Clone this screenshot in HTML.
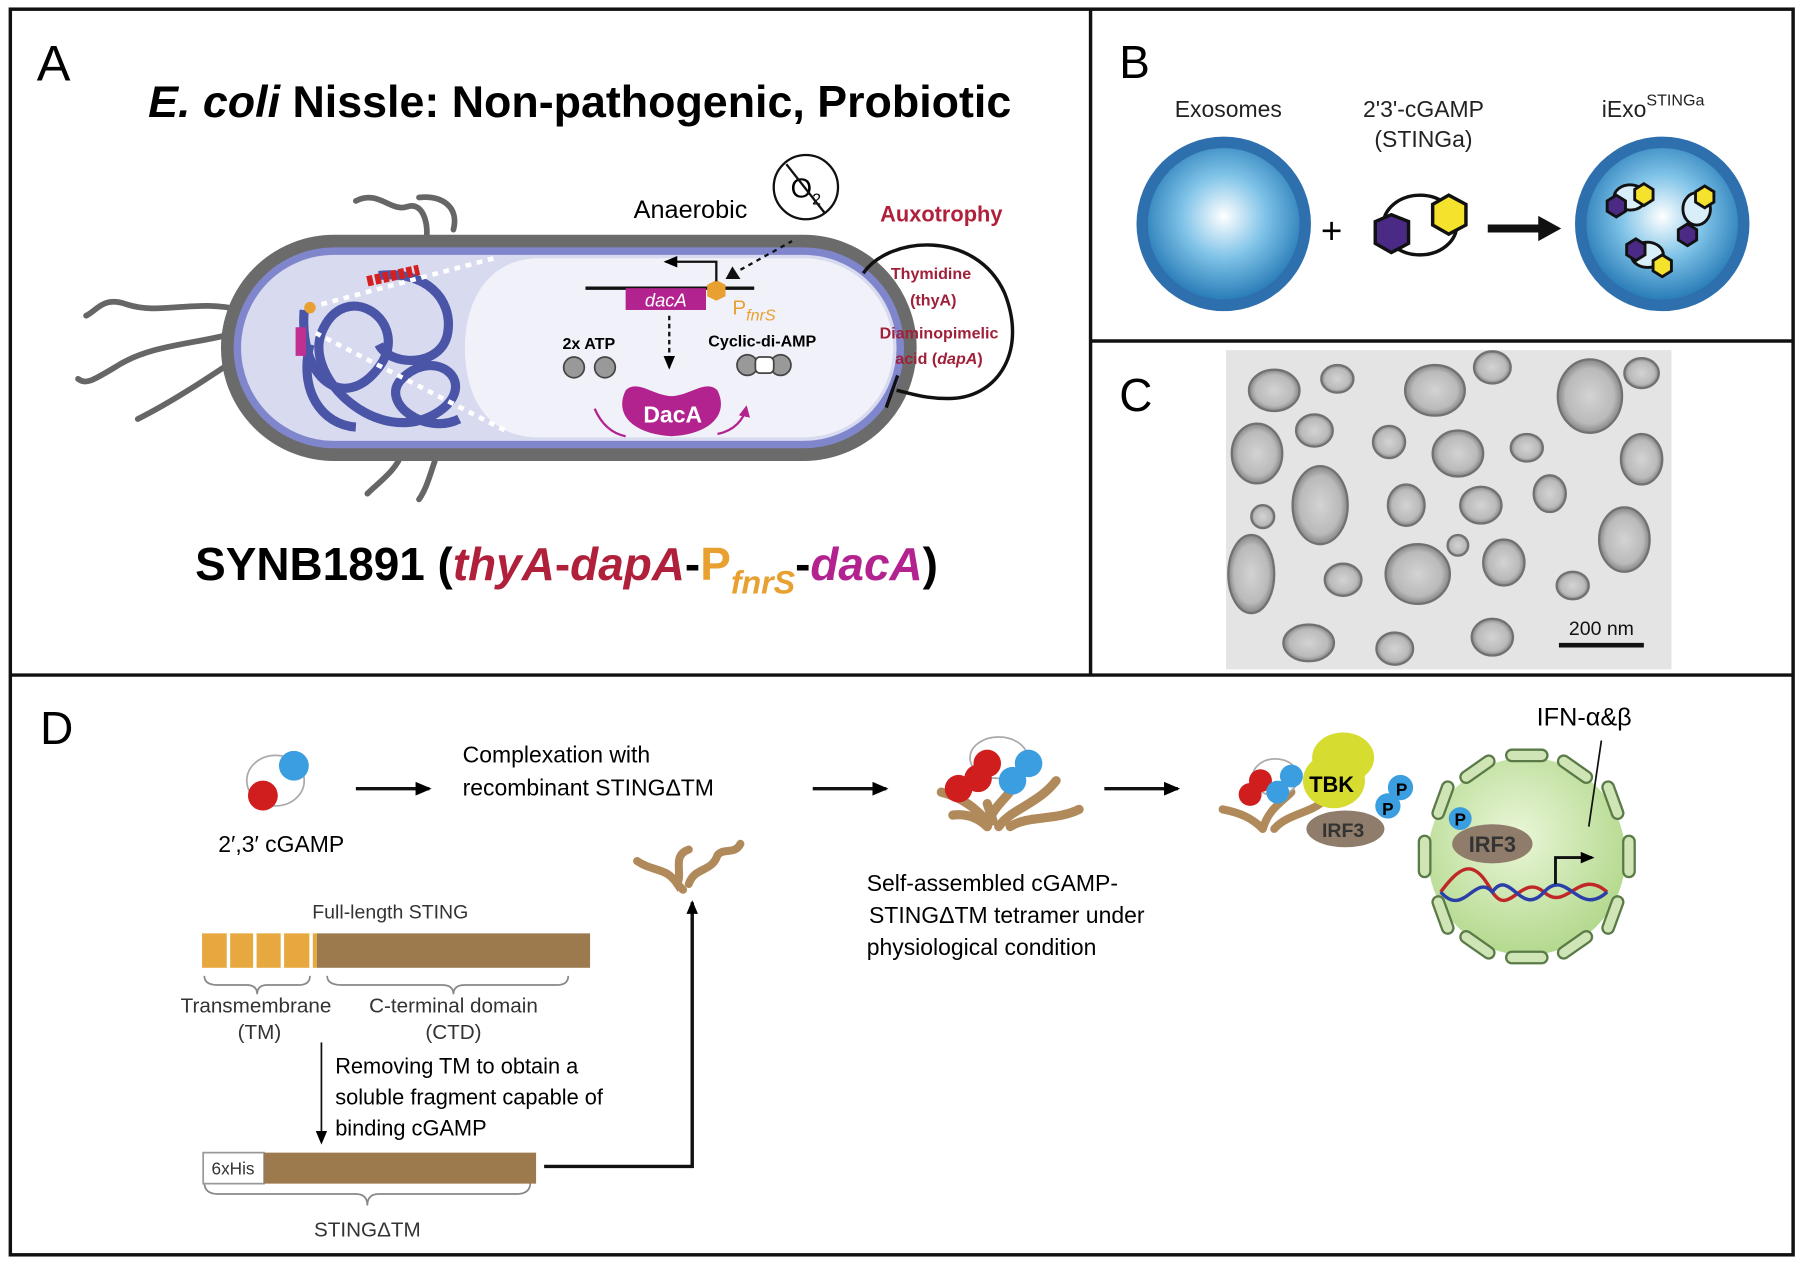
<!DOCTYPE html>
<html><head><meta charset="utf-8"><style>
html,body{margin:0;padding:0;background:#fff;}
svg{display:block;}
text{font-family:"Liberation Sans",Arial,sans-serif;}
</style></head><body>
<svg width="1800" height="1264" viewBox="0 0 1568 1101" preserveAspectRatio="none" xmlns="http://www.w3.org/2000/svg">
<defs>
<radialGradient id="exo" cx="50%" cy="45%" r="55%"><stop offset="0" stop-color="#ffffff"/><stop offset="0.5" stop-color="#7fc3e8"/><stop offset="1" stop-color="#2a7db8"/></radialGradient>
<radialGradient id="nuc" cx="45%" cy="40%" r="60%"><stop offset="0" stop-color="#eaf6d8"/><stop offset="1" stop-color="#b4d98e"/></radialGradient>
<radialGradient id="em" cx="50%" cy="50%" r="50%"><stop offset="0" stop-color="#d0d0d0"/><stop offset="0.75" stop-color="#b0b0b0"/><stop offset="1" stop-color="#707070"/></radialGradient>
<marker id="ah" markerUnits="userSpaceOnUse" markerWidth="14" markerHeight="12" refX="12" refY="6" orient="auto"><path d="M0,0 L14,6 L0,12 z" fill="#000"/></marker>
<marker id="ahs" markerUnits="userSpaceOnUse" markerWidth="12" markerHeight="10" refX="10" refY="5" orient="auto"><path d="M0,0 L12,5 L0,10 z" fill="#000"/></marker>
<marker id="ahm" markerUnits="userSpaceOnUse" markerWidth="10" markerHeight="10" refX="8" refY="5" orient="auto"><path d="M0,0 L10,5 L0,10 z" fill="#b3238f"/></marker>
</defs>
<rect x="0" y="0" width="1568" height="1101" fill="#fff"/>
<rect x="9" y="8" width="1553" height="1085" fill="none" stroke="#111" stroke-width="3"/>
<line x1="950" y1="8" x2="950" y2="588" stroke="#111" stroke-width="3"/>
<line x1="9" y1="588" x2="1562" y2="588" stroke="#111" stroke-width="3"/>
<line x1="950" y1="297" x2="1562" y2="297" stroke="#111" stroke-width="3"/>

<!-- PANEL A -->
<text x="32" y="70" font-size="44">A</text>
<text x="505" y="102" font-size="39" font-weight="bold" text-anchor="middle"><tspan font-style="italic">E. coli</tspan> Nissle: Non-pathogenic, Probiotic</text>
<g fill="none" stroke="#666" stroke-width="5" stroke-linecap="round">
<path d="M310,175 C330,165 340,185 355,180 C370,175 375,200 370,215"/>
<path d="M365,172 C385,170 400,180 395,200"/>
<path d="M210,270 C170,260 140,275 110,265 C90,258 85,270 75,275"/>
<path d="M205,290 C170,300 130,300 100,320 C80,332 75,335 68,330"/>
<path d="M210,310 C180,330 150,350 120,365"/>
<path d="M350,395 C345,410 330,420 320,430"/>
<path d="M380,398 C375,412 372,425 365,435"/>
</g>
<rect x="198" y="210" width="595" height="186" rx="93" fill="#8086cc" stroke="#6b6b6b" stroke-width="11"/>
<rect x="210" y="222" width="571" height="162" rx="81" fill="#d8daef"/>
<path d="M470,225 L700,225 A78,78 0 0 1 700,381 L470,381 C420,381 405,340 405,303 C405,262 425,225 470,225 Z" fill="#f1f2f9"/>
<g fill="none" stroke="#4a55a8" stroke-width="8">
<path d="M265,270 C260,330 300,360 330,320 C360,280 300,240 280,290 C265,330 330,390 380,360 C420,335 380,300 350,330 C330,350 370,380 400,365"/>
<path d="M330,240 C370,235 395,260 390,290 C385,320 340,320 330,300"/>
<path d="M270,300 C260,340 280,370 310,372"/>
</g>
<path d="M320,245 L365,235" stroke="#d42020" stroke-width="9" stroke-dasharray="5,2"/>
<path d="M262,285 L262,310" stroke="#c03090" stroke-width="9"/>
<circle cx="270" cy="268" r="5" fill="#e8a030"/>
<line x1="280" y1="265" x2="430" y2="225" stroke="#fff" stroke-width="4" stroke-dasharray="5,5"/>
<line x1="275" y1="290" x2="440" y2="375" stroke="#fff" stroke-width="4" stroke-dasharray="5,5"/>
<line x1="510" y1="251" x2="657" y2="251" stroke="#111" stroke-width="3"/>
<rect x="545" y="251" width="70" height="19" fill="#b3238f"/>
<text x="580" y="267" font-size="16" fill="#fff" font-style="italic" text-anchor="middle">dacA</text>
<polygon points="624,244 632,248 632,258 624,262 616,258 616,248" fill="#e8a030"/>
<text x="638" y="274" font-size="18" fill="#e8a030">P<tspan font-size="14" font-style="italic" dy="5">fnrS</tspan></text>
<path d="M624,245 L624,228 L580,228" fill="none" stroke="#111" stroke-width="2" marker-end="url(#ahs)"/>
<polygon points="632,243 645,243 638,232" fill="#111"/>
<line x1="645" y1="235" x2="690" y2="210" stroke="#111" stroke-width="2" stroke-dasharray="4,4"/>
<text x="552" y="190" font-size="22">Anaerobic</text>
<circle cx="702" cy="163" r="28" fill="#fff" stroke="#111" stroke-width="2"/>
<text x="702" y="172" font-size="24" text-anchor="middle">O<tspan font-size="14" dy="6">2</tspan></text>
<line x1="685" y1="143" x2="718" y2="185" stroke="#111" stroke-width="2"/>
<line x1="583" y1="275" x2="583" y2="320" stroke="#111" stroke-width="2" stroke-dasharray="4,3" marker-end="url(#ahs)"/>
<text x="490" y="304" font-size="14" font-weight="bold">2x ATP</text>
<circle cx="500" cy="320" r="9" fill="#999" stroke="#444" stroke-width="1.5"/>
<circle cx="527" cy="320" r="9" fill="#999" stroke="#444" stroke-width="1.5"/>
<text x="617" y="302" font-size="14" font-weight="bold">Cyclic-di-AMP</text>
<circle cx="651" cy="318" r="9" fill="#999" stroke="#444" stroke-width="1.5"/>
<circle cx="680" cy="318" r="9" fill="#999" stroke="#444" stroke-width="1.5"/>
<rect x="658" y="311" width="16" height="14" fill="#fff" stroke="#444" stroke-width="1.5" rx="4"/>
<path d="M545,340 C555,330 570,345 585,345 C600,345 615,330 625,340 C635,360 620,378 585,380 C550,378 535,360 545,340 Z" fill="#b3238f"/>
<text x="586" y="368" font-size="20" font-weight="bold" fill="#fff" text-anchor="middle">DacA</text>
<path d="M518,356 C525,372 535,378 545,380" fill="none" stroke="#b3238f" stroke-width="2"/>
<path d="M625,378 C640,375 648,365 650,355" fill="none" stroke="#b3238f" stroke-width="2" marker-end="url(#ahm)"/>
<text x="820" y="193" font-size="19" font-weight="bold" fill="#b0203a" text-anchor="middle">Auxotrophy</text>
<path d="M752,238 C775,205 850,200 875,255 C895,305 870,345 830,347 C808,348 795,343 781,340" fill="none" stroke="#111" stroke-width="3"/>
<line x1="782" y1="327" x2="772" y2="355" stroke="#111" stroke-width="3"/>
<g font-size="14" font-weight="bold" fill="#a0203a" text-anchor="middle">
<text x="811" y="243">Thymidine</text><text x="813" y="266">(thyA)</text>
<text x="818" y="295">Diaminopimelic</text><text x="818" y="317">acid (<tspan font-style="italic">dapA</tspan>)</text>
</g>
<text x="170" y="505" font-size="40" font-weight="bold">SYNB1891 (<tspan fill="#b0203a" font-style="italic">thyA</tspan><tspan fill="#b0203a">-</tspan><tspan fill="#b0203a" font-style="italic">dapA</tspan>-<tspan fill="#e8a030">P</tspan><tspan fill="#e8a030" font-size="28" font-style="italic" dy="12">fnrS</tspan><tspan dy="-12">-</tspan><tspan fill="#b3238f" font-style="italic">dacA</tspan>)</text>

<!-- PANEL B -->
<text x="975" y="68" font-size="40">B</text>
<text x="1070" y="102" font-size="20" fill="#222" text-anchor="middle">Exosomes</text>
<text x="1240" y="102" font-size="20" fill="#222" text-anchor="middle">2'3'-cGAMP</text>
<text x="1240" y="128" font-size="20" fill="#222" text-anchor="middle">(STINGa)</text>
<text x="1440" y="102" font-size="20" fill="#222" text-anchor="middle">iExo<tspan font-size="14" dy="-10">STINGa</tspan></text>
<ellipse cx="1066" cy="195" rx="76" ry="76" fill="#2e6fae"/>
<ellipse cx="1066" cy="195" rx="66" ry="66" fill="url(#exo)"/>
<text x="1160" y="212" font-size="32" text-anchor="middle">+</text>
<ellipse cx="1237" cy="196" rx="32" ry="26" fill="#fff" stroke="#111" stroke-width="3"/>
<polygon points="1212,187 1227,193 1227,212 1212,220 1198,212 1198,193" fill="#4b2a85" stroke="#111" stroke-width="3"/>
<polygon points="1262,170 1277,178 1277,196 1262,204 1248,196 1248,178" fill="#f4e22c" stroke="#111" stroke-width="3"/>
<line x1="1296" y1="199" x2="1345" y2="199" stroke="#111" stroke-width="7"/>
<polygon points="1340,188 1360,199 1340,210" fill="#111"/>
<ellipse cx="1448" cy="195" rx="76" ry="76" fill="#2e6fae"/>
<ellipse cx="1448" cy="195" rx="66" ry="66" fill="url(#exo)"/>
<g stroke="#111" stroke-width="2.5">
<ellipse cx="1420" cy="172" rx="14" ry="11" fill="#d8eef8"/>
<polygon points="1408,170 1416,175 1416,184 1408,189 1400,184 1400,175" fill="#4b2a85"/>
<polygon points="1432,160 1440,165 1440,174 1432,179 1424,174 1424,165" fill="#f4e22c"/>
<ellipse cx="1478" cy="182" rx="12" ry="14" fill="#d8eef8"/>
<polygon points="1485,162 1493,167 1493,176 1485,181 1477,176 1477,167" fill="#f4e22c"/>
<polygon points="1470,195 1478,200 1478,209 1470,214 1462,209 1462,200" fill="#4b2a85"/>
<ellipse cx="1435" cy="222" rx="14" ry="11" fill="#d8eef8"/>
<polygon points="1425,208 1433,213 1433,222 1425,227 1417,222 1417,213" fill="#4b2a85"/>
<polygon points="1448,222 1456,227 1456,236 1448,241 1440,236 1440,227" fill="#f4e22c"/>
</g>

<!-- PANEL C -->
<text x="975" y="358" font-size="40">C</text>
<rect x="1068" y="305" width="388" height="278" fill="#e4e4e4"/>
<g fill="url(#em)" stroke="#555" stroke-width="2" opacity="0.8">
<ellipse cx="1110" cy="340" rx="22" ry="18"/><ellipse cx="1165" cy="330" rx="14" ry="12"/><ellipse cx="1250" cy="340" rx="26" ry="22"/>
<ellipse cx="1300" cy="320" rx="16" ry="14"/><ellipse cx="1385" cy="345" rx="28" ry="32"/><ellipse cx="1430" cy="325" rx="15" ry="13"/>
<ellipse cx="1095" cy="395" rx="22" ry="26"/><ellipse cx="1145" cy="375" rx="16" ry="14"/><ellipse cx="1210" cy="385" rx="14" ry="14"/>
<ellipse cx="1270" cy="395" rx="22" ry="20"/><ellipse cx="1330" cy="390" rx="14" ry="12"/><ellipse cx="1430" cy="400" rx="18" ry="22"/>
<ellipse cx="1150" cy="440" rx="24" ry="34"/><ellipse cx="1225" cy="440" rx="16" ry="18"/><ellipse cx="1290" cy="440" rx="18" ry="16"/>
<ellipse cx="1350" cy="430" rx="14" ry="16"/><ellipse cx="1415" cy="470" rx="22" ry="28"/><ellipse cx="1090" cy="500" rx="20" ry="34"/>
<ellipse cx="1170" cy="505" rx="16" ry="14"/><ellipse cx="1235" cy="500" rx="28" ry="26"/><ellipse cx="1310" cy="490" rx="18" ry="20"/>
<ellipse cx="1370" cy="510" rx="14" ry="12"/><ellipse cx="1140" cy="560" rx="22" ry="16"/><ellipse cx="1215" cy="565" rx="16" ry="14"/>
<ellipse cx="1300" cy="555" rx="18" ry="16"/><ellipse cx="1100" cy="450" rx="10" ry="10"/><ellipse cx="1270" cy="475" rx="9" ry="9"/>
</g>
<text x="1395" y="553" font-size="17" text-anchor="middle" fill="#111">200 nm</text>
<line x1="1358" y1="562" x2="1432" y2="562" stroke="#111" stroke-width="4"/>

<!-- PANEL D -->
<text x="35" y="648" font-size="40">D</text>
<ellipse cx="240" cy="680" rx="25" ry="22" fill="#fff" stroke="#aaa" stroke-width="1.5"/>
<circle cx="256" cy="667" r="13" fill="#3b9ee0"/>
<circle cx="229" cy="693" r="13" fill="#d01e1e"/>
<text x="245" y="742" font-size="20" text-anchor="middle">2′,3′ cGAMP</text>
<line x1="310" y1="687" x2="374" y2="687" stroke="#111" stroke-width="3" marker-end="url(#ah)"/>
<text x="403" y="664" font-size="20">Complexation with</text>
<text x="403" y="693" font-size="20">recombinant STINGΔTM</text>
<line x1="708" y1="687" x2="772" y2="687" stroke="#111" stroke-width="3" marker-end="url(#ah)"/>
<line x1="962" y1="687" x2="1026" y2="687" stroke="#111" stroke-width="3" marker-end="url(#ah)"/>
<g fill="none" stroke="#b08a5a" stroke-width="7" stroke-linecap="round">
<path d="M555,750 C570,760 580,755 590,770 C595,760 585,745 600,740"/>
<path d="M600,770 C605,755 620,760 625,745 C630,738 640,745 645,735"/>
<path d="M590,770 L595,775"/>
</g>
<g fill="none" stroke="#b08a5a" stroke-width="8" stroke-linecap="round">
<path d="M820,690 C840,695 850,705 860,715"/><path d="M830,710 C845,708 855,715 860,720"/>
<path d="M860,720 C865,700 880,695 885,680"/><path d="M870,720 C880,705 905,700 920,680"/>
<path d="M880,720 C895,710 920,715 940,705"/><path d="M865,715 L860,700"/>
</g>
<ellipse cx="870" cy="660" rx="25" ry="18" fill="#fff" stroke="#aaa" stroke-width="1.5"/>
<circle cx="860" cy="665" r="12" fill="#d01e1e"/><circle cx="852" cy="678" r="12" fill="#d01e1e"/>
<circle cx="896" cy="665" r="12" fill="#3b9ee0"/><circle cx="882" cy="680" r="12" fill="#3b9ee0"/>
<circle cx="835" cy="687" r="12" fill="#d01e1e"/>
<text x="755" y="776" font-size="20">Self-assembled cGAMP-</text>
<text x="757" y="804" font-size="20">STINGΔTM tetramer under</text>
<text x="755" y="832" font-size="20">physiological condition</text>
<g fill="none" stroke="#b08a5a" stroke-width="7" stroke-linecap="round">
<path d="M1065,705 C1080,708 1090,712 1100,722"/><path d="M1100,722 C1105,705 1115,700 1125,690"/><path d="M1110,722 C1120,710 1140,708 1150,700"/>
</g>
<ellipse cx="1111" cy="677" rx="20" ry="16" fill="#fff" stroke="#aaa" stroke-width="1.5"/>
<circle cx="1098" cy="680" r="10" fill="#d01e1e"/><circle cx="1089" cy="692" r="10" fill="#d01e1e"/>
<circle cx="1125" cy="676" r="10" fill="#3b9ee0"/><circle cx="1113" cy="690" r="10" fill="#3b9ee0"/>
<ellipse cx="1170" cy="660" rx="27" ry="22" fill="#d6dc30"/>
<ellipse cx="1162" cy="680" rx="27" ry="24" fill="#d6dc30"/>
<ellipse cx="1172" cy="722" rx="34" ry="16" fill="#8f7c6a"/>
<text x="1160" y="690" font-size="19" font-weight="bold" text-anchor="middle">TBK</text>
<text x="1170" y="729" font-size="17" font-weight="bold" fill="#333" text-anchor="middle">IRF3</text>
<circle cx="1209" cy="702" r="11" fill="#3b9ee0"/><circle cx="1220" cy="686" r="11" fill="#3b9ee0"/>
<text x="1209" y="710" font-size="15" font-weight="bold" text-anchor="middle">P</text>
<text x="1221" y="693" font-size="15" font-weight="bold" text-anchor="middle">P</text>
<circle cx="1330" cy="746" r="86" fill="url(#nuc)"/>
<g fill="#cfe5b5" stroke="#5a7a48" stroke-width="2">
<rect x="1312" y="653" width="36" height="10" rx="5"/>
<rect x="1312" y="829" width="36" height="10" rx="5"/>
<rect x="1236" y="728" width="10" height="36" rx="5"/>
<rect x="1414" y="728" width="10" height="36" rx="5"/>
<rect x="1355" y="665" width="34" height="10" rx="5" transform="rotate(35 1372 670)"/>
<rect x="1270" y="665" width="34" height="10" rx="5" transform="rotate(-35 1287 670)"/>
<rect x="1355" y="818" width="34" height="10" rx="5" transform="rotate(-35 1372 823)"/>
<rect x="1270" y="818" width="34" height="10" rx="5" transform="rotate(35 1287 823)"/>
<rect x="1240" y="692" width="34" height="10" rx="5" transform="rotate(-70 1257 697)"/>
<rect x="1388" y="692" width="34" height="10" rx="5" transform="rotate(70 1405 697)"/>
<rect x="1240" y="792" width="34" height="10" rx="5" transform="rotate(70 1257 797)"/>
<rect x="1388" y="792" width="34" height="10" rx="5" transform="rotate(-70 1405 797)"/>
</g>
<ellipse cx="1300" cy="735" rx="35" ry="17" fill="#8f7c6a"/>
<text x="1300" y="742" font-size="19" font-weight="bold" fill="#333" text-anchor="middle">IRF3</text>
<circle cx="1272" cy="713" r="10" fill="#3b9ee0"/>
<text x="1272" y="719" font-size="15" font-weight="bold" text-anchor="middle">P</text>
<path d="M1255,777 C1275,750 1285,750 1300,777 C1315,800 1325,760 1345,777 C1365,795 1375,755 1400,777" fill="none" stroke="#c02828" stroke-width="3"/>
<path d="M1255,777 C1275,800 1285,760 1300,777 C1315,755 1325,800 1345,777 C1365,755 1375,800 1400,777" fill="none" stroke="#2a3fa8" stroke-width="3"/>
<path d="M1355,770 L1355,747 L1387,747" fill="none" stroke="#111" stroke-width="2.5" marker-end="url(#ahs)"/>
<line x1="1395" y1="645" x2="1384" y2="720" stroke="#111" stroke-width="1.5"/>
<text x="1380" y="632" font-size="22" text-anchor="middle">IFN-α&amp;β</text>
<text x="340" y="800" font-size="17" fill="#333" text-anchor="middle">Full-length STING</text>
<rect x="176" y="813" width="100" height="30" fill="#e8a840"/>
<g stroke="#fff" stroke-width="3"><line x1="199" y1="813" x2="199" y2="843"/><line x1="222" y1="813" x2="222" y2="843"/><line x1="246" y1="813" x2="246" y2="843"/><line x1="271" y1="813" x2="271" y2="843"/></g>
<rect x="276" y="813" width="238" height="30" fill="#9c7a4e"/>
<g fill="none" stroke="#888" stroke-width="1.5">
<path d="M178,850 Q178,858 190,858 L215,858 Q224,858 224,866 Q224,858 233,858 L260,858 Q270,858 270,850"/>
<path d="M285,850 Q285,858 298,858 L385,858 Q395,858 395,866 Q395,858 405,858 L485,858 Q495,858 495,850"/>
<path d="M178,1030 Q178,1040 190,1040 L310,1040 Q320,1040 320,1050 Q320,1040 330,1040 L450,1040 Q462,1040 462,1030"/>
</g>
<text x="223" y="882" font-size="18" fill="#333" text-anchor="middle">Transmembrane</text>
<text x="226" y="905" font-size="18" fill="#333" text-anchor="middle">(TM)</text>
<text x="395" y="882" font-size="18" fill="#333" text-anchor="middle">C-terminal domain</text>
<text x="395" y="905" font-size="18" fill="#333" text-anchor="middle">(CTD)</text>
<line x1="280" y1="908" x2="280" y2="995" stroke="#111" stroke-width="1.5" marker-end="url(#ahs)"/>
<text x="292" y="935" font-size="19">Removing TM to obtain a</text>
<text x="292" y="962" font-size="19">soluble fragment capable of</text>
<text x="292" y="989" font-size="19">binding cGAMP</text>
<rect x="177" y="1004" width="53" height="27" fill="#fff" stroke="#999" stroke-width="1.5"/>
<rect x="230" y="1004" width="237" height="27" fill="#9c7a4e"/>
<text x="203" y="1023" font-size="15" fill="#333" text-anchor="middle">6xHis</text>
<text x="320" y="1077" font-size="18" fill="#333" text-anchor="middle">STINGΔTM</text>
<path d="M474,1016 L603,1016 L603,786" fill="none" stroke="#111" stroke-width="3" marker-end="url(#ahs)"/>
</svg>
</body></html>
